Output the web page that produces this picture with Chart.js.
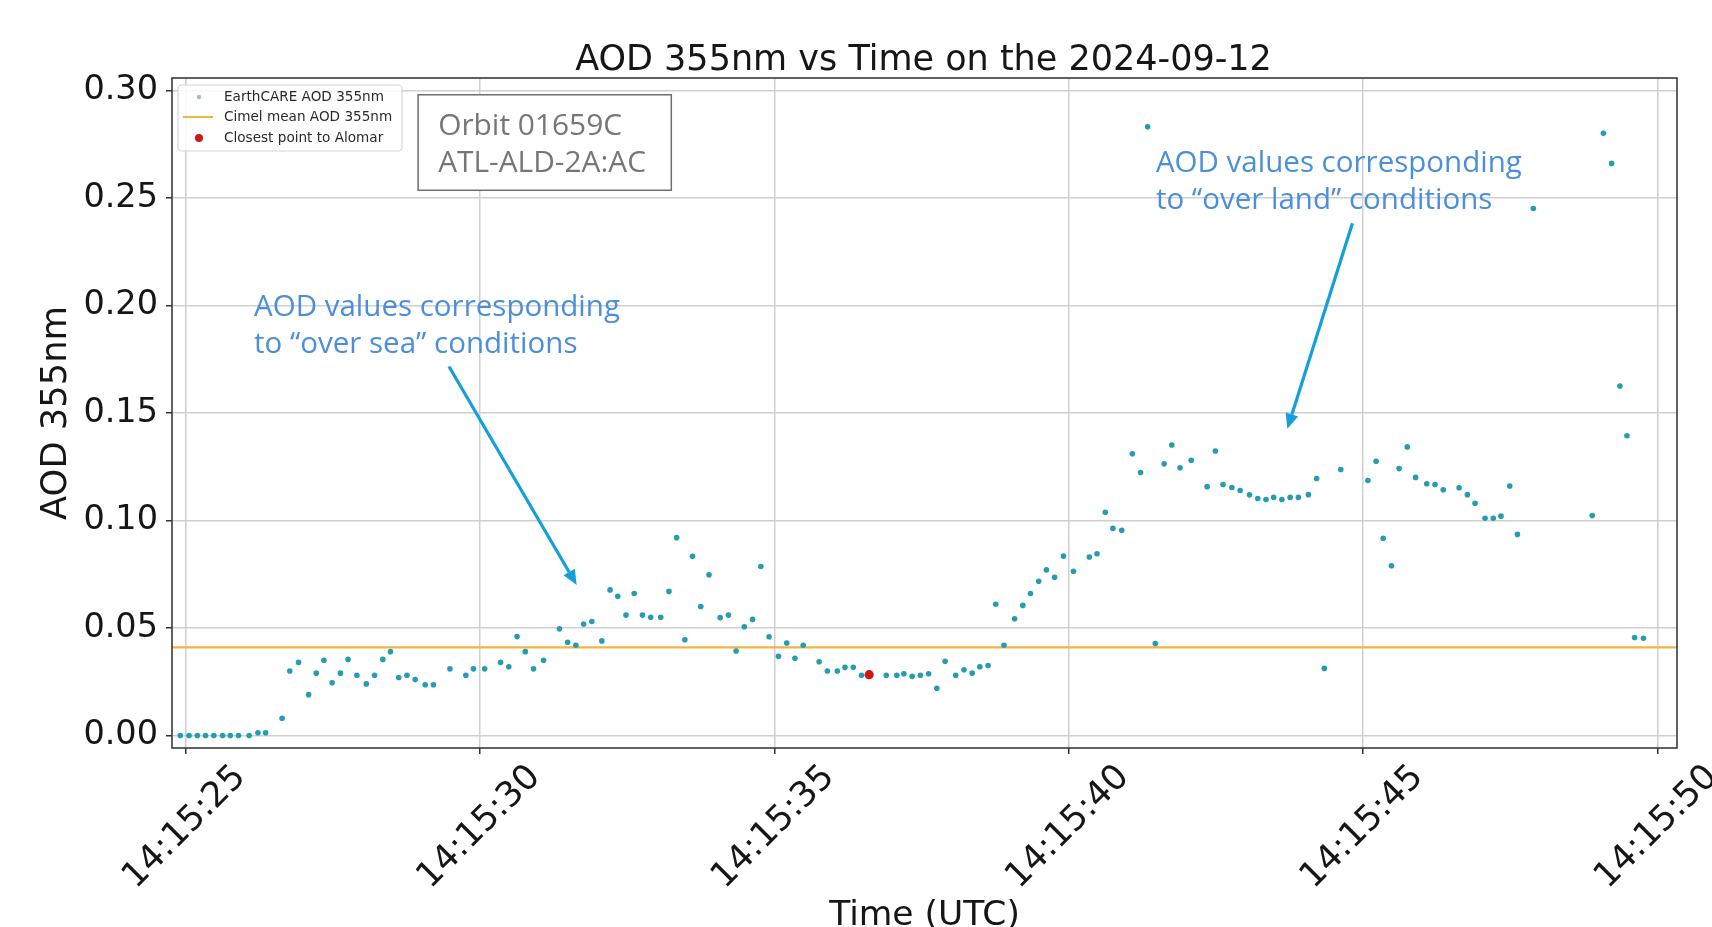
<!DOCTYPE html>
<html><head><meta charset="utf-8">
<script src="https://cdn.jsdelivr.net/npm/chart.js@4.4.1/dist/chart.umd.min.js"></script>
<style>html,body{margin:0;padding:0;background:#fff;overflow:hidden}#wrap{width:1712px;height:927px}</style>
</head><body><div id="wrap"><canvas id="c" width="1712" height="927"></canvas></div>
<script>
// seconds after 14:15:25 UTC
const timeSec = [
 -0.09, 0.06, 0.20, 0.34, 0.48, 0.63, 0.76, 0.90, 1.08, 1.23,
 1.36, 1.64, 1.77, 1.92, 2.09, 2.22, 2.35, 2.49, 2.63, 2.76,
 2.91, 3.07, 3.21, 3.35, 3.48, 3.62, 3.76, 3.90, 4.07, 4.21,
 4.49, 4.76, 4.89, 5.08, 5.35, 5.49, 5.63, 5.77, 5.91, 6.08,
 6.35, 6.49, 6.63, 6.76, 6.90, 7.07, 7.21, 7.34, 7.48, 7.62,
 7.76, 7.90, 8.07, 8.21, 8.34, 8.48, 8.61, 8.75, 8.89, 9.08,
 9.22, 9.35, 9.49, 9.63, 9.77, 9.91, 10.07, 10.21, 10.35, 10.49,
 10.76, 10.90, 11.07, 11.20, 11.34, 11.48, 11.90, 12.08, 12.20, 12.34,
 12.48, 12.62, 12.76, 12.90, 13.08, 13.22, 13.36, 13.49, 13.63, 13.76,
 13.90, 14.08, 14.22, 14.35, 14.49, 14.62, 14.76, 14.91, 15.08, 15.35,
 15.48, 15.62, 15.75, 15.90, 16.08, 16.22, 16.34, 16.47, 16.62, 16.75,
 16.89, 17.08, 17.35, 17.49, 17.62, 17.77, 17.91, 18.07, 18.21, 18.35,
 18.48, 18.62, 18.76, 18.90, 19.07, 19.21, 19.34, 19.62, 20.08, 20.22,
 20.34, 20.48, 20.61, 20.75, 20.89, 21.08, 21.22, 21.36, 21.63, 21.77,
 21.90, 22.07, 22.21, 22.34, 22.49, 22.62, 22.89, 23.89, 24.08, 24.22,
 24.36, 24.48, 24.61, 24.76
];
const aod355 = [
 0, 0, 0, 0, 0, 0, 0, 0, 0, 0.0013,
 0.0013, 0.008, 0.030, 0.034, 0.019, 0.029, 0.035, 0.0245, 0.029, 0.0354,
 0.028, 0.024, 0.028, 0.0354, 0.039, 0.027, 0.028, 0.026, 0.0236, 0.0236,
 0.031, 0.028, 0.031, 0.031, 0.034, 0.032, 0.046, 0.039, 0.031, 0.035,
 0.0496, 0.0434, 0.042, 0.0518, 0.053, 0.044, 0.0677, 0.0647, 0.056, 0.066,
 0.056, 0.055, 0.055, 0.067, 0.092, 0.0445, 0.0833, 0.060, 0.0747, 0.0548,
 0.056, 0.0393, 0.0506, 0.054, 0.0786, 0.0459, 0.0368, 0.043, 0.0359, 0.042,
 0.0343, 0.030, 0.030, 0.0317, 0.0317, 0.028, 0.028, 0.028, 0.0287, 0.0275,
 0.028, 0.0287, 0.022, 0.0345, 0.028, 0.0306, 0.029, 0.032, 0.0325, 0.061,
 0.042, 0.0543, 0.0605, 0.066, 0.0717, 0.077, 0.0736, 0.0834, 0.0764, 0.083,
 0.0845, 0.1038, 0.0963, 0.0954, 0.131, 0.1223, 0.283, 0.0428, 0.1263, 0.1351,
 0.1245, 0.128, 0.1157, 0.1323, 0.1167, 0.1153, 0.1139, 0.1119, 0.1102, 0.1097,
 0.1107, 0.1097, 0.1107, 0.1107, 0.112, 0.1195, 0.0312, 0.1237, 0.1186, 0.1275,
 0.0917, 0.0789, 0.1241, 0.1342, 0.120, 0.117, 0.1167, 0.1143, 0.1152, 0.112,
 0.108, 0.101, 0.101, 0.102, 0.116, 0.0935, 0.245, 0.1023, 0.280, 0.266,
 0.1625, 0.1394, 0.0456, 0.0452
];
const closestTimeSec = [11.61];
const closestAOD = [0.0283];
const cimelMeanAOD = 0.041;
const xTickSec = [0, 5, 10, 15, 20, 25];
const xTickLabels = ['14:15:25', '14:15:30', '14:15:35', '14:15:40', '14:15:45', '14:15:50'];
const yTickValues = [0, 0.05, 0.10, 0.15, 0.20, 0.25, 0.30];
const xLimits = [-0.23, 25.33];
const yLimits = [-0.0058, 0.3057];
const legendLabels = ['EarthCARE AOD 355nm', 'Cimel mean AOD 355nm', 'Closest point to Alomar'];
const titleText = 'AOD 355nm vs Time on the 2024-09-12';
const orbitLines = ['Orbit 01659C', 'ATL-ALD-2A:AC'];
const seaNote = ['AOD values corresponding', 'to \u201cover sea\u201d conditions'];
const landNote = ['AOD values corresponding', 'to \u201cover land\u201d conditions'];

const C_PT = '#259cb1', C_CIMEL = '#f2b441', C_RED = '#d01515';
const MPL = 'DejaVu Sans';

function fitSize(ctx, text, family, target) {
  ctx.font = '100px "' + family + '"';
  return 100 * target / ctx.measureText(text).width;
}
function arrow(ctx, x0, y0, x1, y1, color, w, hl, hw) {
  const a = Math.atan2(y1 - y0, x1 - x0);
  const bx = x1 - hl * Math.cos(a), by = y1 - hl * Math.sin(a);
  ctx.save();
  ctx.strokeStyle = color; ctx.fillStyle = color; ctx.lineWidth = w;
  ctx.beginPath(); ctx.moveTo(x0, y0); ctx.lineTo(bx, by); ctx.stroke();
  ctx.beginPath(); ctx.moveTo(x1, y1);
  ctx.lineTo(bx + hw / 2 * Math.sin(a), by - hw / 2 * Math.cos(a));
  ctx.lineTo(bx - hw / 2 * Math.sin(a), by + hw / 2 * Math.cos(a));
  ctx.closePath(); ctx.fill();
  ctx.restore();
}

const overlay = {
  id: 'overlay',
  afterDraw(chart) {
    const ctx = chart.ctx, a = chart.chartArea;
    const xs = chart.scales.x, ys = chart.scales.y;
    const px = v => xs.getPixelForValue(v), py = v => ys.getPixelForValue(v);
    ctx.save();
    // spines
    ctx.strokeStyle = '#3a3a3a'; ctx.lineWidth = 1.6;
    ctx.strokeRect(a.left, a.top, a.right - a.left, a.bottom - a.top);
    // title
    ctx.fillStyle = '#161616'; ctx.textAlign = 'center'; ctx.textBaseline = 'alphabetic';
    ctx.font = '35px "' + MPL + '"';
    ctx.fillText(titleText, (a.left + a.right) / 2 - 1, a.top - 8);
    // legend
    const lx = a.left + 6, ly = a.top + 7, lw = 224, lh = 66;
    ctx.fillStyle = 'rgba(255,255,255,0.85)'; ctx.strokeStyle = '#d6d6d6'; ctx.lineWidth = 1.2;
    ctx.beginPath(); ctx.roundRect(lx, ly, lw, lh, 4); ctx.fill(); ctx.stroke();
    const rows = [ly + 12, ly + 32, ly + 53];
    ctx.fillStyle = '#8fc3d3'; ctx.beginPath(); ctx.arc(lx + 21, rows[0], 2.2, 0, Math.PI * 2); ctx.fill();
    ctx.strokeStyle = C_CIMEL; ctx.lineWidth = 2;
    ctx.beginPath(); ctx.moveTo(lx + 5, rows[1]); ctx.lineTo(lx + 35, rows[1]); ctx.stroke();
    ctx.fillStyle = C_RED; ctx.beginPath(); ctx.arc(lx + 21, rows[2], 4, 0, Math.PI * 2); ctx.fill();
    ctx.fillStyle = '#2a2a2a'; ctx.textAlign = 'left'; ctx.textBaseline = 'middle';
    ctx.font = '13.6px "' + MPL + '"';
    legendLabels.forEach((t, i) => ctx.fillText(t, lx + 46, rows[i]));
    // orbit box
    const bx0 = px(3.95), by0 = py(0.2979), bx1 = px(8.25), by1 = py(0.2535);
    ctx.fillStyle = '#fff'; ctx.fillRect(bx0, by0, bx1 - bx0, by1 - by0);
    ctx.strokeStyle = '#6e6e6e'; ctx.lineWidth = 1.5;
    ctx.strokeRect(bx0, by0, bx1 - bx0, by1 - by0);
    const os = fitSize(ctx, orbitLines[1], 'Open Sans', 208);
    ctx.font = os + 'px "Open Sans"'; ctx.fillStyle = '#767676';
    ctx.textAlign = 'left'; ctx.textBaseline = 'alphabetic';
    ctx.fillText(orbitLines[0], px(4.29), py(0.2793));
    ctx.fillText(orbitLines[1], px(4.29), py(0.2618));
    // annotations
    const ns = fitSize(ctx, seaNote[0], 'Open Sans', 366);
    ctx.font = ns + 'px "Open Sans"'; ctx.fillStyle = '#4b8fdc';
    ctx.fillText(seaNote[0], px(1.163), py(0.1951));
    ctx.fillText(seaNote[1], px(1.163), py(0.1779));
    ctx.fillText(landNote[0], px(16.48), py(0.2622));
    ctx.fillText(landNote[1], px(16.48), py(0.2447));
    arrow(ctx, px(4.474), py(0.1716), px(6.643), py(0.0700), '#139fd9', 3.2, 15, 13);
    arrow(ctx, px(19.818), py(0.2382), px(18.713), py(0.1426), '#139fd9', 3.2, 15, 13);
    ctx.restore();
  }
};

new Chart(document.getElementById('c'), {
  type: 'scatter',
  data: {
    datasets: [
      { label: legendLabels[2], data: closestTimeSec.map((t, i) => ({x: t, y: closestAOD[i]})),
        backgroundColor: C_RED, borderColor: C_RED, pointRadius: 4.6, borderWidth: 0, order: 0 },
      { label: legendLabels[0], data: timeSec.map((t, i) => ({x: t, y: aod355[i]})),
        backgroundColor: C_PT, borderColor: C_PT, pointRadius: 2.8, borderWidth: 0, order: 1 },
      { type: 'line', label: legendLabels[1],
        data: [{x: xLimits[0], y: cimelMeanAOD}, {x: xLimits[1], y: cimelMeanAOD}],
        borderColor: C_CIMEL, borderWidth: 2.2, pointRadius: 0, fill: false, order: 2 }
    ]
  },
  options: {
    responsive: false, animation: false, devicePixelRatio: 1,
    layout: { padding: { top: 78, right: 35, bottom: 0, left: 0 } },
    plugins: { legend: { display: false }, tooltip: { enabled: false }, title: { display: false } },
    scales: {
      x: {
        type: 'linear', min: xLimits[0], max: xLimits[1],
        afterBuildTicks: s => { s.ticks = xTickSec.map(v => ({ value: v })); },
        afterFit: s => { s.height = 179; },
        ticks: { callback: (v, i) => xTickLabels[i], autoSkip: false, maxRotation: 45, minRotation: 45,
          font: { family: MPL, size: 35 }, color: '#161616', padding: 3, labelOffset: 55 },
        grid: { color: '#d0d0d0', lineWidth: 1.5, tickLength: 6, tickColor: '#333', tickWidth: 1.5 },
        border: { display: false },
        title: { display: true, text: 'Time (UTC)', color: '#161616',
          font: { family: MPL, size: 34.5, lineHeight: 0.66 }, padding: 0 }
      },
      y: {
        type: 'linear', min: yLimits[0], max: yLimits[1],
        afterBuildTicks: s => { s.ticks = yTickValues.map(v => ({ value: v })); },
        afterFit: s => { s.width = 172; },
        ticks: { callback: v => v.toFixed(2), font: { family: MPL, size: 33.5 }, color: '#161616', padding: 8 },
        grid: { color: '#d0d0d0', lineWidth: 1.5, tickLength: 6, tickColor: '#333', tickWidth: 1.5 },
        border: { display: false },
        title: { display: true, text: 'AOD 355nm', color: '#161616',
          font: { family: MPL, size: 35.3, lineHeight: 1.2 }, padding: { top: 36, bottom: 0 } }
      }
    }
  },
  plugins: [overlay]
});
</script></body></html>
